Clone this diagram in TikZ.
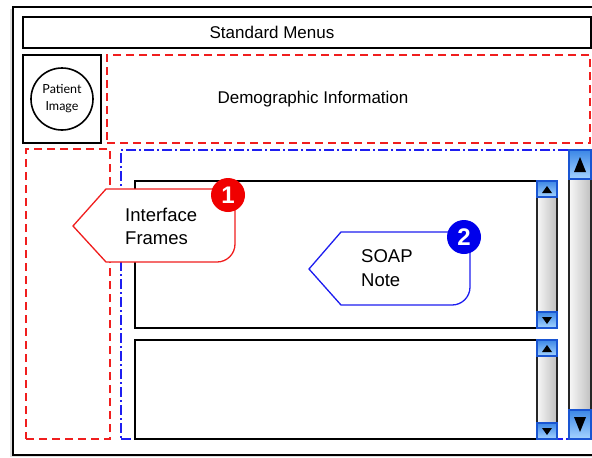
\documentclass[tikz,border=0pt]{standalone}
\usepackage{fontspec}
\setmainfont{Liberation Sans}
\newfontfamily\gillfont{Lato}
\usetikzlibrary{shadows}
\definecolor{btop}{RGB}{60,135,230}
\definecolor{bbot}{RGB}{165,212,255}
\definecolor{bedge}{RGB}{25,85,210}
\definecolor{rdash}{RGB}{240,30,30}
\definecolor{bdash}{RGB}{30,30,240}
\definecolor{badgered}{RGB}{240,0,0}
\definecolor{badgeblue}{RGB}{0,0,235}
\newcommand\sbar[5]{%
  \shade[left color=gray!6,right color=gray!50,draw=black!85,line width=1.2] (#1,#3) rectangle (#2,#4);
  \shade[top color=btop,bottom color=bbot,draw=bedge,line width=1.2] (#1,#3) rectangle (#2,{#3+#5});
  \shade[top color=btop,bottom color=bbot,draw=bedge,line width=1.2] (#1,{#4-#5}) rectangle (#2,#4);
}
\newcommand\uptri[4]{\fill[black] ({#1-#3},{#2+#4}) -- ({#1+#3},{#2+#4}) -- (#1,{#2-#4}) -- cycle;}
\newcommand\dntri[4]{\fill[black] ({#1-#3},{#2-#4}) -- ({#1+#3},{#2-#4}) -- (#1,{#2+#4}) -- cycle;}
\begin{document}
\begin{tikzpicture}[x=1pt,y=-1pt,
  box/.style={draw=black, line width=1.6, anchor=north west, inner sep=0, outer sep=0},
  reddash/.style={draw=rdash, line width=1.6, dash pattern=on 8pt off 5pt, anchor=north west, inner sep=0, outer sep=0},
  bluedash/.style={draw=bdash, line width=1.5, dash pattern=on 10pt off 3pt on 2pt off 3pt, anchor=north west, inner sep=0, outer sep=0},
  lbl/.style={font=\fontsize{17}{20}\selectfont, inner sep=0},
  calltxt/.style={font=\fontsize{18.5}{23.5}\selectfont, align=left, anchor=west, inner sep=0},
  badge/.style={circle, minimum size=34, inner sep=0, text=white, font=\fontsize{24}{24}\selectfont\bfseries},
]
\useasboundingbox (0,0) rectangle (592,458);
% window
\node[box, line width=2, fill=white, minimum width=600, minimum height=448,
  drop shadow={shadow xshift=-3pt, shadow yshift=-2pt, opacity=0.25}] (win) at (13,7) {};
% standard menus
\node[box, minimum width=568, minimum height=31] (menus) at (23,17) {};
\node[lbl] (menustxt) at (272,32.5) {Standard Menus};
% patient image
\node[box, minimum width=78, minimum height=88] (pbox) at (23,55) {};
\node[draw=black, line width=1.6, circle, minimum size=62, inner sep=0, align=center,
  font=\gillfont\fontsize{12.5}{17}\selectfont] (pimg) at (62,99) {Patient\\Image};
% demographic
\node[reddash, minimum width=483, minimum height=88] (demo) at (107,55) {};
\node[lbl] (demotxt) at (313,99.5) {Demographic Information};
% left frames zone
\node[reddash, minimum width=84, minimum height=290] (leftz) at (26,149) {};
% blue region
\node[bluedash, minimum width=448, minimum height=289] (bluez) at (121,150) {};
% frames
\node[box, fill=white, minimum width=422, minimum height=147] (frame1) at (135,181) {};
\node[box, fill=white, minimum width=422, minimum height=99] (frame2) at (135,340) {};
% scrollbars
\sbar{537}{557}{181}{328}{16}
\uptri{547}{189.5}{5}{3.5}
\dntri{547}{320.5}{5}{3.5}
\sbar{537}{557}{340}{439}{16}
\uptri{547}{348.5}{5}{3.5}
\dntri{547}{431.5}{5}{3.5}
\sbar{569}{591}{150}{439}{29}
\uptri{580}{164.5}{6}{7.5}
\dntri{580}{424.5}{6}{7.5}
% callout 1
\draw[draw=rdash, line width=1.3, fill=white] (73,226) -- (106,189) -- (235,189) -- (235,244)
  .. controls (235,254) and (227,262) .. (217,262) -- (106,262) -- cycle;
\node[calltxt] (c1txt) at (125,226.5) {Interface\\Frames};
\node[badge, fill=badgered] (b1) at (228,195) {1};
% callout 2
\draw[draw=bdash, line width=1.3, fill=white] (309,269) -- (341,232) -- (470,232) -- (470,287)
  .. controls (470,297) and (462,305) .. (452,305) -- (341,305) -- cycle;
\node[calltxt] (c2txt) at (361,268) {SOAP\\Note};
\node[badge, fill=badgeblue] (b2) at (464,237) {2};
\end{tikzpicture}
\end{document}
